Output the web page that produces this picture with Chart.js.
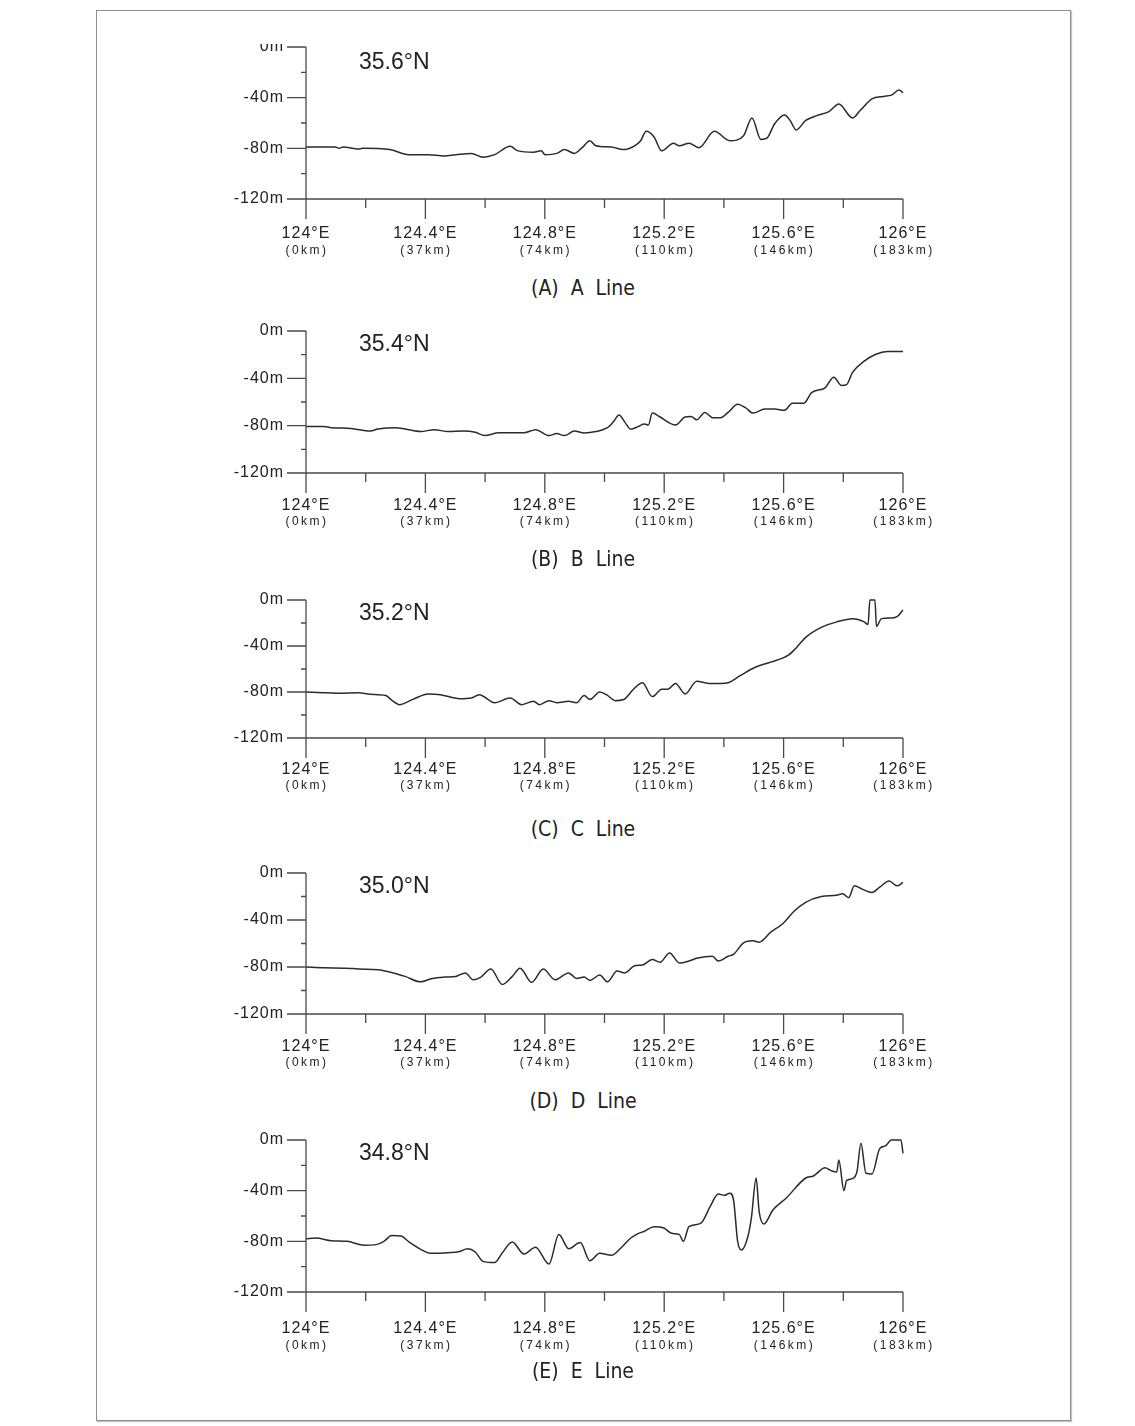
<!DOCTYPE html>
<html>
<head>
<meta charset="utf-8">
<script src="https://cdn.jsdelivr.net/npm/chart.js@4.4.1/dist/chart.umd.min.js"></script>
<style>
  body { margin: 0; background: #fff; width: 1135px; height: 1426px; position: relative; overflow: hidden; }
  #frame { position: absolute; left: 96px; top: 10px; width: 973px; height: 1409px; border: 1px solid #8e8e8e; box-shadow: 1px 1px 1px #c4c4c4; }
  .panel { position: absolute; left: 220px; width: 733px; }
  .cap { position: absolute; left: 433px; width: 300px; text-align: center; font-family: "Liberation Sans Narrow", "DejaVu Sans Condensed", sans-serif; font-size: 21px; color: #222; line-height: 22px; white-space: pre; }
</style>
</head>
<body>
<div id="frame"></div>
<div id="root"></div>
<script>
// axis labels
const majorLons = [124, 124.4, 124.8, 125.2, 125.6, 126];
const kmLabels = ['(0km)', '(37km)', '(74km)', '(110km)', '(146km)', '(183km)'];
const latLabels = ['35.6°N', '35.4°N', '35.2°N', '35.0°N', '34.8°N'];
const captions = ['(A)  A  Line', '(B)  B  Line', '(C)  C  Line', '(D)  D  Line', '(E)  E  Line'];

// profiles (longitude °E, depth m)
const lonA = [124.000,124.098,124.111,124.124,124.176,124.189,124.280,124.345,124.410,124.463,124.502,124.554,124.593,124.632,124.684,124.710,124.762,124.788,124.801,124.840,124.866,124.899,124.925,124.951,124.971,125.023,125.062,125.101,125.121,125.140,125.166,125.192,125.231,125.251,125.283,125.316,125.368,125.420,125.466,125.494,125.524,125.544,125.570,125.603,125.622,125.642,125.674,125.713,125.752,125.785,125.831,125.857,125.896,125.935,125.961,125.987,126.000];
const depthA = [-79,-79,-80,-79,-80.6,-80,-81,-85,-85,-86,-85,-84,-87,-85,-78.4,-82,-83,-82,-85,-84,-81,-84,-79.5,-74,-78,-79,-81,-78,-74,-66.6,-71,-82,-76,-78,-76,-79.5,-66.6,-74,-70,-56,-73,-72,-60.6,-53.6,-58,-65.5,-58,-54,-51,-45,-56,-50,-41,-39,-38,-34,-36];

const lonB = [124.000,124.059,124.085,124.150,124.215,124.241,124.300,124.332,124.384,124.430,124.476,124.528,124.567,124.599,124.645,124.730,124.769,124.814,124.840,124.866,124.899,124.932,124.971,125.010,125.029,125.049,125.068,125.088,125.114,125.134,125.147,125.160,125.186,125.238,125.270,125.290,125.309,125.336,125.362,125.388,125.414,125.446,125.472,125.498,125.537,125.570,125.603,125.629,125.668,125.694,125.739,125.768,125.794,125.811,125.831,125.870,125.909,125.948,126.000];
const depthB = [-80.6,-80.6,-81.7,-82.3,-84.5,-82.8,-81.7,-82.8,-85,-83.4,-85,-84.5,-85.6,-88.4,-86,-86,-83.4,-88.4,-86.7,-88.4,-84.5,-86.2,-85,-81.7,-77,-71,-77,-83,-80.6,-78.6,-79.4,-69.4,-72.7,-79.4,-72.7,-72.2,-75,-68.8,-73.3,-73.3,-68.8,-62,-64.8,-69.4,-66,-66,-67,-61,-61,-52,-48,-39,-46,-45.3,-35,-25.5,-19.6,-17.3,-17.3];

const lonC = [124.000,124.059,124.111,124.176,124.215,124.267,124.287,124.313,124.358,124.410,124.450,124.515,124.554,124.580,124.632,124.684,124.723,124.762,124.782,124.814,124.840,124.880,124.906,124.932,124.951,124.984,125.010,125.036,125.062,125.101,125.127,125.160,125.192,125.212,125.238,125.270,125.309,125.349,125.388,125.414,125.453,125.505,125.557,125.616,125.642,125.674,125.726,125.778,125.831,125.870,125.883,125.889,125.906,125.911,125.928,125.961,125.980,126.000];
const depthC = [-80,-80.6,-81,-80.6,-82,-83,-87,-91,-86.4,-81.7,-82.3,-85.8,-85.2,-82.3,-89.3,-85.2,-91,-88,-91,-87.5,-89.3,-88,-89.3,-83,-86.4,-80,-83,-87.5,-86.8,-76.5,-72,-84,-77.7,-77.7,-72.5,-81.7,-70.7,-72.5,-72.5,-71.9,-66,-58.5,-54,-48,-41.7,-32.5,-23.8,-19,-16.2,-19,-21.4,0,0,-23,-16.2,-15.6,-14.5,-8.7];

const lonD = [124.000,124.059,124.137,124.176,124.241,124.287,124.332,124.384,124.423,124.463,124.502,124.534,124.560,124.586,124.619,124.658,124.691,124.717,124.756,124.795,124.834,124.880,124.906,124.932,124.951,124.984,125.010,125.042,125.068,125.101,125.127,125.160,125.186,125.218,125.251,125.283,125.309,125.362,125.381,125.414,125.433,125.466,125.498,125.518,125.557,125.596,125.635,125.674,125.726,125.778,125.798,125.818,125.837,125.863,125.896,125.922,125.954,125.980,126.000];
const depthD = [-80,-80.6,-81,-81.7,-82.3,-84.6,-88,-92.6,-89.7,-88.6,-88,-85,-90.9,-88.6,-81.7,-94.9,-88,-81.1,-93,-81.7,-90.9,-85,-89.7,-88.6,-91.4,-86.9,-92.6,-83.4,-85,-78.9,-78.3,-73.7,-76,-68,-76.6,-74.9,-72.6,-70.9,-74.9,-70.9,-69,-59.4,-57.7,-58.9,-50.3,-43.4,-32.6,-25,-20,-18.9,-17.7,-21,-10.9,-13.7,-16.6,-12,-6.9,-10.9,-8];

const lonE = [124.000,124.033,124.085,124.137,124.195,124.235,124.261,124.287,124.319,124.345,124.384,124.417,124.476,124.515,124.541,124.567,124.593,124.632,124.658,124.691,124.730,124.769,124.814,124.847,124.880,124.919,124.951,124.984,125.023,125.055,125.088,125.114,125.134,125.166,125.199,125.225,125.251,125.264,125.283,125.322,125.355,125.381,125.401,125.420,125.433,125.446,125.459,125.479,125.492,125.508,125.518,125.534,125.564,125.609,125.674,125.700,125.739,125.759,125.778,125.785,125.802,125.811,125.831,125.846,125.859,125.876,125.896,125.922,125.941,125.961,125.993,126.000];
const depthE = [-78,-77.4,-79.5,-80,-83,-82.6,-80,-75.3,-75.8,-80.5,-86.3,-89.5,-89,-88,-85.8,-88.4,-95.8,-96.8,-89,-80.5,-90,-84.7,-97.9,-74.7,-85.8,-81,-95.3,-89.5,-91,-85.3,-77.4,-73.7,-72,-68.4,-69.5,-73.7,-74.7,-80,-68.4,-65.8,-52,-42.6,-43.7,-42,-48.4,-80,-86.8,-77.4,-61.6,-30,-56.3,-66.3,-55.3,-45.8,-30,-28.4,-22,-24.2,-25.3,-15.8,-40,-32,-30.5,-24.7,-2.6,-26.3,-26.8,-6.8,-4.7,0,0,-10.5];

const lons = [lonA, lonB, lonC, lonD, lonE];
const depths = [depthA, depthB, depthC, depthD, depthE];

// page placement of each panel (pixel rows of 0m / -120m, label offsets)
const layout = [
  { y0: 47,   y120: 199,  padTop: 3,  lab: 34, km: 52, cap: 288 },
  { y0: 331,  y120: 473,  padTop: 20, lab: 32, km: 49, cap: 559 },
  { y0: 600,  y120: 738,  padTop: 20, lab: 31, km: 48, cap: 829 },
  { y0: 873,  y120: 1014, padTop: 20, lab: 32, km: 49, cap: 1101 },
  { y0: 1140, y120: 1292, padTop: 20, lab: 36, km: 54, cap: 1371 }
];

const ink = '#222';
const axisColor = '#4a4a4a';
Chart.defaults.font.family = '"Liberation Sans", Arial, sans-serif';
Chart.defaults.color = ink;

const isMajorLon = v => Math.round(v * 10) % 4 === 0;

// the source figure sets its tick labels slightly spread out
const spacedLabels = {
  id: 'spacedLabels',
  beforeDraw(chart) { chart.ctx.letterSpacing = '1px'; },
  afterDatasetsDraw(chart) { chart.ctx.letterSpacing = '0px'; }
};

const axisMarks = {
  id: 'axisMarks',
  afterDraw(chart, args, opts) {
    const { ctx, scales: { x, y }, chartArea: a } = chart;
    ctx.save();
    ctx.letterSpacing = '0px';
    ctx.strokeStyle = axisColor;
    ctx.lineWidth = 1.3;
    ctx.beginPath();
    ctx.moveTo(a.left, y.getPixelForValue(0));
    ctx.lineTo(a.left, y.getPixelForValue(-120));
    ctx.lineTo(x.getPixelForValue(126), y.getPixelForValue(-120));
    y.ticks.forEach(t => {
      const py = y.getPixelForValue(t.value);
      const len = t.value % 40 === 0 ? 19 : 5;
      ctx.moveTo(a.left - len, py);
      ctx.lineTo(a.left, py);
    });
    x.ticks.forEach(t => {
      const px = x.getPixelForValue(t.value);
      const len = isMajorLon(t.value) ? 20 : 9;
      ctx.moveTo(px, a.bottom);
      ctx.lineTo(px, a.bottom + len);
    });
    ctx.stroke();

    // km row under the longitude labels
    ctx.fillStyle = ink;
    ctx.font = '12px "Liberation Sans", Arial, sans-serif';
    ctx.textAlign = 'center';
    ctx.textBaseline = 'middle';
    ctx.letterSpacing = '2.5px';
    majorLons.forEach((lon, i) => {
      ctx.fillText(kmLabels[i], x.getPixelForValue(lon) + 1, a.bottom + opts.km);
    });
    ctx.letterSpacing = '0px';

    // latitude tag
    ctx.font = '23px "Liberation Sans", Arial, sans-serif';
    ctx.textAlign = 'left';
    ctx.fillText(opts.lat, a.left + 53, a.top + opts.titleOff);
    ctx.restore();
  }
};

const root = document.getElementById('root');

layout.forEach((p, i) => {
  const plotH = p.y120 - p.y0;
  const xH = 75;
  const box = document.createElement('div');
  box.className = 'panel';
  box.style.top = (p.y0 - p.padTop) + 'px';
  box.style.height = (p.padTop + plotH + xH) + 'px';
  const cv = document.createElement('canvas');
  box.appendChild(cv);
  root.appendChild(box);

  const cap = document.createElement('div');
  cap.className = 'cap';
  cap.style.top = (p.cap - 11) + 'px';
  cap.textContent = captions[i];
  root.appendChild(cap);

  const pts = lons[i].map((lon, k) => ({ x: lon, y: depths[i][k] }));

  new Chart(cv, {
    type: 'line',
    data: {
      datasets: [{
        data: pts,
        borderColor: '#2b2b2b',
        borderWidth: 1.5,
        pointRadius: 0,
        cubicInterpolationMode: 'monotone',
        fill: false,
        clip: false
      }]
    },
    options: {
      responsive: true,
      maintainAspectRatio: false,
      animation: false,
      layout: { padding: { top: p.padTop, right: 50, bottom: 0, left: 0 } },
      plugins: {
        legend: { display: false },
        tooltip: { enabled: false },
        axisMarks: { km: p.km, lat: latLabels[i], titleOff: i === 0 ? 16 : 14 }
      },
      scales: {
        x: {
          type: 'linear',
          min: 124,
          max: 126,
          grid: { display: false, drawTicks: false },
          border: { display: false },
          ticks: {
            stepSize: 0.2,
            autoSkip: false,
            maxRotation: 0,
            minRotation: 0,
            padding: p.lab - 9,
            font: { size: 16 },
            callback: v => isMajorLon(v) ? (Math.round(v * 10) / 10) + '°E' : ''
          },
          afterFit: s => { s.height = xH; s.paddingLeft = 0; s.paddingRight = 0; }
        },
        y: {
          min: -120,
          max: 0,
          grid: { display: false, drawTicks: false },
          border: { display: false },
          ticks: {
            stepSize: 20,
            autoSkip: false,
            padding: 22,
            font: { size: 16 },
            callback: v => v % 40 === 0 ? v + 'm' : ''
          },
          afterFit: s => { s.width = 86; s.paddingTop = 0; s.paddingBottom = 0; }
        }
      }
    },
    plugins: [spacedLabels, axisMarks]
  });
});
</script>
</body>
</html>
